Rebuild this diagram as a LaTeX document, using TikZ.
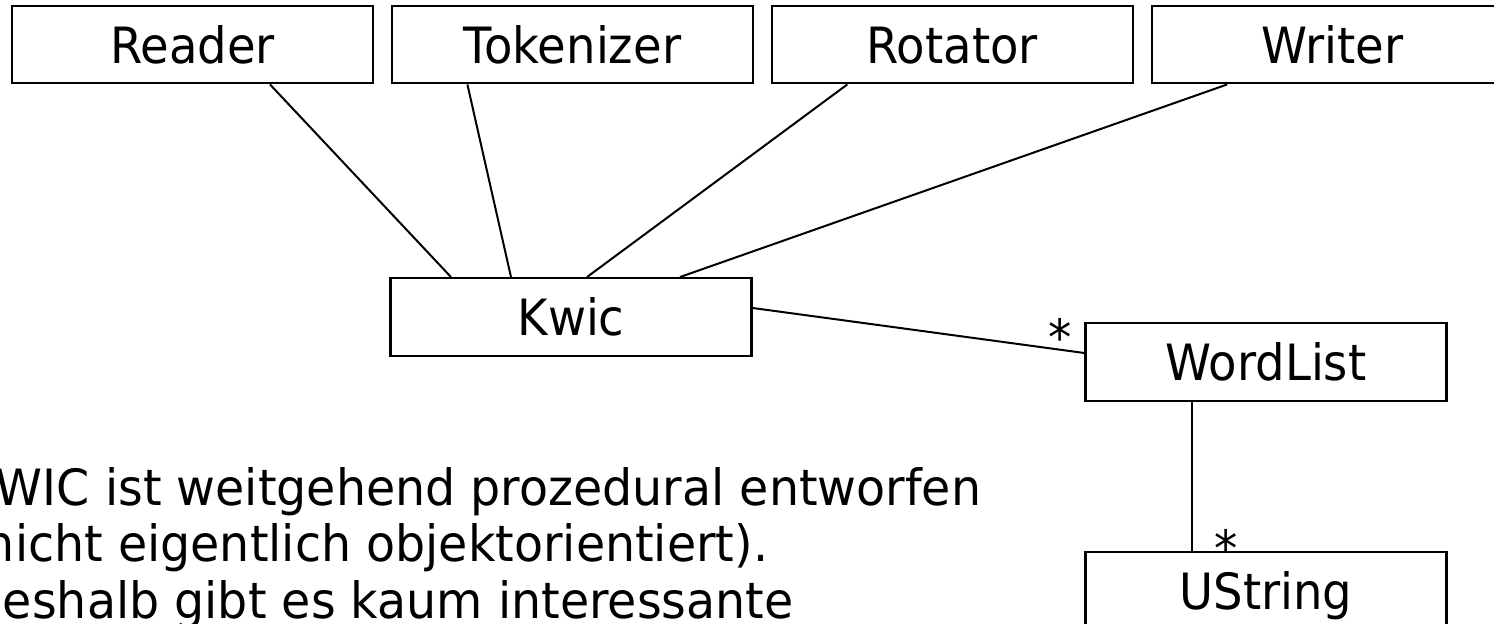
\documentclass[tikz,border=0pt]{standalone}
\usepackage{fontspec}
\setmainfont{DejaVu Sans}[FakeStretch=0.93]
\newfontfamily\notefont{DejaVu Sans}[FakeStretch=0.95]
\usetikzlibrary{positioning}

\begin{document}
\begin{tikzpicture}[x=0.5pt,y=-0.5pt]
\tikzstyle{classbox}=[draw=black,line width=1.2pt,minimum width=180.5pt,minimum height=38.75pt,inner sep=0pt,text height=19pt,text depth=0pt,font=\fontsize{25}{28.5}\selectfont]
\tikzstyle{assoc}=[line width=1pt]
\tikzstyle{mult}=[anchor=base,inner sep=0pt,text depth=0pt,font=\fontsize{25}{28.5}\selectfont]
\useasboundingbox (0,0) rectangle (1494,624);
\clip (0,0) rectangle (1494,624);
\node [classbox] at (192.5,44.5) (reader) {Reader};
\node [classbox,right=8.25pt of reader] (tok) {Tokenizer};
\node [classbox,right=8.25pt of tok] (rot) {Rotator};
\node [classbox,right=8.25pt of rot] (wri) {Writer};
\node [classbox] at (571,317) (kwic) {Kwic};
\node [classbox] at (1266,362) (wl) {WordList};
\node [classbox,below=74.5pt of wl] (us) {UString};
\node [mult] at (1060,355.5) (m1) {*};
\node [mult] at (1226,567) (m2) {*};
\draw [assoc] ([xshift=38.75pt]reader.south) -- ([xshift=-60pt]kwic.north);
\draw [assoc] ([xshift=-52.5pt]tok.south) -- ([xshift=-30pt]kwic.north);
\draw [assoc] ([xshift=-52.5pt]rot.south) -- ([xshift=8pt]kwic.north);
\draw [assoc] ([xshift=-52.5pt]wri.south) -- ([xshift=54.5pt]kwic.north);
\draw [assoc] ([yshift=4.5pt]kwic.east) -- ([yshift=4.5pt]wl.west);
\draw [assoc] ([xshift=-37pt]wl.south) -- ([xshift=-37pt]us.north);
% text below, cut at the left edge as in the slide
\node [anchor=base west,align=left,inner sep=0pt,font=\notefont\fontsize{25}{28.25}\selectfont] at (-34,618) (note) {KWIC ist weitgehend prozedural entworfen\\(nicht eigentlich objektorientiert).\\Deshalb gibt es kaum interessante};
\end{tikzpicture}
\end{document}
